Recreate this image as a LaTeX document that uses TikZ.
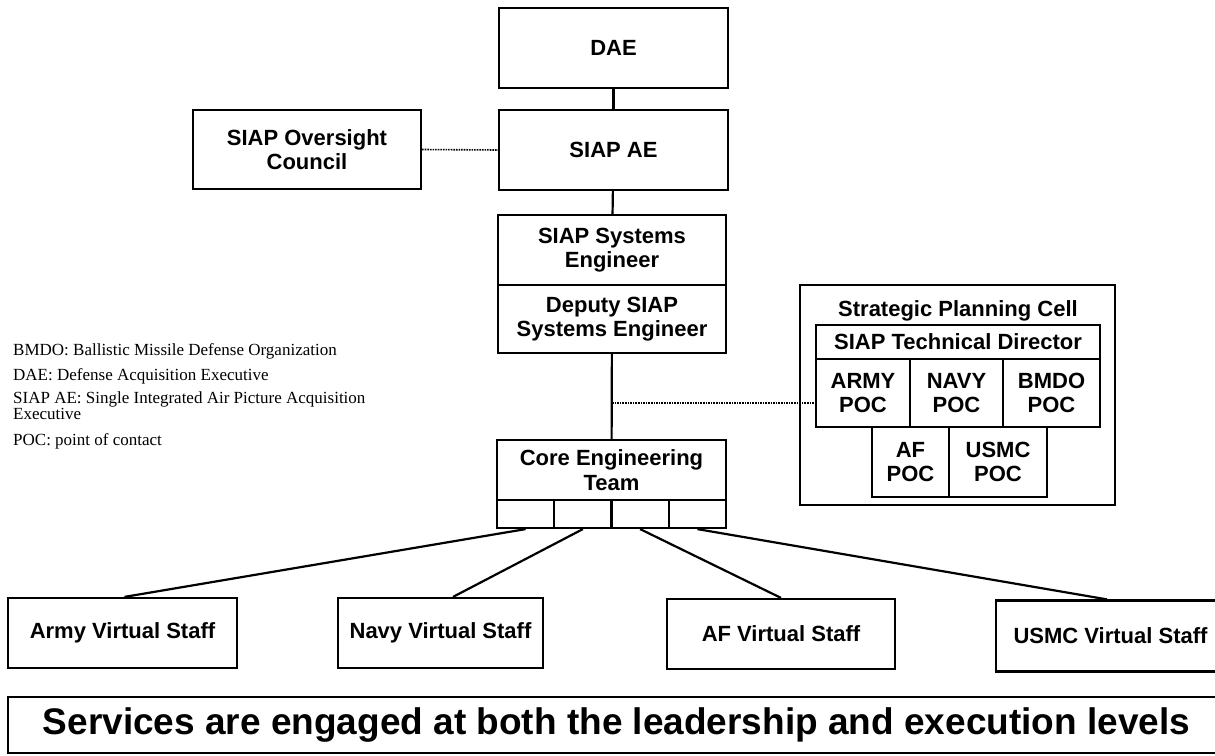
\documentclass[tikz,border=0pt]{standalone}
\usepackage{fontspec}
\setmainfont{Liberation Serif}
\setsansfont{Liberation Sans}
\usetikzlibrary{positioning,calc}

\tikzset{
  box/.style={draw, line width=2.2pt, inner sep=0pt, align=center,
    font=\sffamily\bfseries\fontsize{22}{24.5}\selectfont},
  cell/.style={draw, line width=2.2pt, inner sep=0pt,
    minimum width=57.25pt, minimum height=28pt},
  link/.style={line width=2.2pt},
  dotlink/.style={line width=1.6pt, densely dotted},
  legend/.style={anchor=base west, inner sep=0pt, align=left,
    font=\fontsize{17}{14}\selectfont},
}

\begin{document}
\begin{tikzpicture}[x=1pt, y=-1pt]
    \useasboundingbox (0,0) rectangle (1215,755);

    % Top of the chain
    \node[box, minimum width=229pt, minimum height=80pt] (dae) at (613.5,48) {DAE};
    \node[box, minimum width=229pt, minimum height=80pt] (siapae) at (613.5,150) {SIAP AE};
    \node[box, minimum width=228pt, minimum height=79pt] (council) at (307,149.5) {SIAP Oversight\\Council};

    % Systems engineer and deputy
    \node[box, minimum width=228pt, minimum height=70pt] (syseng) at (612,250) {SIAP Systems\\Engineer};
    \node[box, minimum width=228pt, minimum height=68pt] (deputy) at (612,319) {Deputy SIAP\\Systems Engineer};

    % Core engineering team with its four cells
    \node[box, minimum width=229pt, minimum height=60pt] (core) at (611.5,470) {Core Engineering\\Team};
    \foreach \i in {1,...,4}
        \node[cell] (cell\i) at ({497+57.25*(\i-0.5)},514) {};

    % Strategic planning cell
    \node[draw, line width=2.2pt, minimum width=315pt, minimum height=220pt] (spc) at (957.5,395) {};
    \node[box, draw=none] (spctitle) at (958,311) {Strategic Planning Cell};
    \node[box, minimum width=284pt, minimum height=34pt] (techdir) at (958,342) {SIAP Technical Director};
    \node[box, minimum width=94pt, minimum height=68pt] (armypoc) at (863,393) {ARMY\\POC};
    \node[box, minimum width=93pt, minimum height=68pt] (navypoc) at (956.5,393) {NAVY\\POC};
    \node[box, minimum width=97pt, minimum height=68pt] (bmdopoc) at (1051.5,393) {BMDO\\POC};
    \node[box, minimum width=77pt, minimum height=70pt] (afpoc) at (910.5,462) {AF\\POC};
    \node[box, minimum width=98pt, minimum height=70pt] (usmcpoc) at (998,462) {USMC\\POC};

    % Service virtual staffs
    \node[box, minimum width=229pt, minimum height=70pt] (armyvs) at (122.5,633) {Army Virtual Staff};
    \node[box, minimum width=205pt, minimum height=70pt] (navyvs) at (440.5,633) {Navy Virtual Staff};
    \node[box, minimum width=228pt, minimum height=70pt] (afvs) at (781,634) {AF Virtual Staff};
    \node[box, minimum width=229pt, minimum height=71pt] (usmcvs) at (1110.5,636) {USMC Virtual Staff};

    % Banner
    \node[box, minimum width=1217pt, minimum height=56pt,
          font=\sffamily\bfseries\fontsize{37}{40}\selectfont] (banner) at (616.5,725)
          {Services are engaged at both the leadership and execution levels};

    % Solid links
    \draw[link] (dae) -- (siapae);
    \draw[link] (siapae) -- (syseng);
    \draw[link] (deputy) -- (core);
    \draw[link] (cell1.south) -- ([xshift=2pt]armyvs.north);
    \draw[link] (cell2.south) -- ([xshift=12.5pt]navyvs.north);
    \draw[link] (cell3.south) -- (afvs.north);
    \draw[link] (cell4.south) -- ([xshift=-3.5pt]usmcvs.north);

    % Dotted links
    \draw[dotlink] (council.east) -- (siapae.west);
    \coordinate (tap) at (612,403);
    \draw[dotlink] (tap) -- (tap -| armypoc.west);

    % Legend
    \node[legend] (lgbmdo) at (13,355) {BMDO: Ballistic Missile Defense Organization};
    \node[legend] (lgdae) at (13,380) {DAE: Defense Acquisition Executive};
    \node[legend] (lgsiap) at (13,419) {SIAP AE: Single Integrated Air Picture Acquisition\\Executive};
    \node[legend] (lgpoc) at (13,445) {POC: point of contact};
\end{tikzpicture}
\end{document}
